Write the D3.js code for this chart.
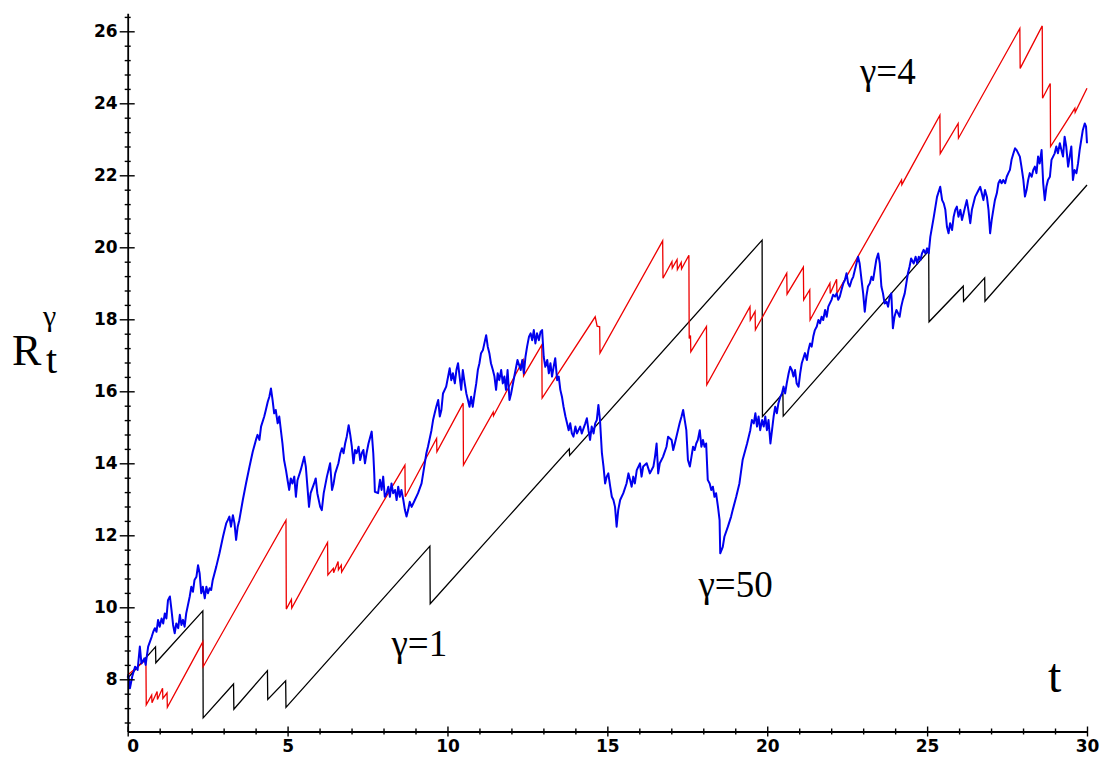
<!DOCTYPE html>
<html><head><meta charset="utf-8">
<script src="https://cdn.jsdelivr.net/npm/d3@7"></script>
<style>
html,body{margin:0;padding:0;background:#fff;}
svg{display:block;}
</style></head>
<body>
<svg id="chart" width="1105" height="758"></svg>
<script>
// ---------- data ----------
const xTickLabels = [0,5,10,15,20,25,30];
const yTickLabels = [8,10,12,14,16,18,20,22,24,26];

// gamma = 1 (black) sawtooth vertices [t, R]
const gamma1Series = [[0,8.03],[0.87,8.90],[0.88,8.46],[2.35,9.90],[2.36,6.93],[3.31,7.87],[3.32,7.17],[4.37,8.24],[4.38,7.44],[4.94,7.96],[4.95,7.22],[9.45,11.70],[9.46,10.10],[13.81,14.40],[13.82,14.22],[19.84,20.20],[19.85,15.30],[20.49,15.94],[20.50,15.31],[25.05,19.90],[25.06,17.93],[26.13,18.92],[26.14,18.50],[26.80,19.15],[26.81,18.50],[30.0,21.73]];

// gamma = 4 (red) sawtooth vertices [t, R]
const gamma4Series = [[0,8.12],[0.57,8.54],[0.58,7.29],[0.75,7.56],[0.76,7.35],[0.92,7.66],[0.93,7.44],[1.09,7.75],[1.10,7.47],[1.23,7.62],[1.24,7.22],[2.35,9.04],[2.36,8.35],[4.95,12.42],[4.96,9.95],[5.12,10.22],[5.13,9.98],[6.25,11.80],[6.26,10.90],[6.43,11.08],[6.44,10.96],[6.58,11.27],[6.59,11.04],[6.68,11.17],[6.69,10.98],[8.67,13.95],[8.68,13.07],[9.66,14.69],[9.67,14.32],[10.49,15.67],[10.50,13.95],[11.43,15.42],[11.44,15.32],[12.37,16.87],[12.38,16.43],[12.95,17.29],[12.96,15.81],[14.62,18.07],[14.68,17.81],[14.76,17.79],[14.77,17.06],[16.73,20.18],[16.74,19.14],[17.02,19.60],[17.03,19.42],[17.18,19.66],[17.19,19.38],[17.31,19.58],[17.32,19.40],[17.55,19.78],[17.56,17.47],[17.60,17.55],[17.61,17.10],[18.10,17.80],[18.11,16.18],[19.46,18.35],[19.47,17.98],[19.62,18.22],[19.63,17.71],[20.61,19.28],[20.62,18.70],[21.13,19.45],[21.14,18.54],[21.33,18.82],[21.34,17.98],[21.96,19.00],[21.97,18.72],[22.17,19.11],[22.18,18.72],[24.20,21.87],[24.21,21.74],[25.40,23.67],[25.41,22.60],[25.97,23.44],[25.98,23.03],[27.90,26.08],[27.91,24.97],[28.60,26.15],[28.61,24.14],[28.85,24.55],[28.86,22.80],[29.62,23.86],[29.63,23.75],[30.0,24.42]];

// gamma = 50 (blue) path samples [t, R]
const gamma50Series = [[0.00,8.05],[0.02,8.12],[0.07,7.75],[0.14,8.07],[0.23,8.35],[0.31,8.26],[0.38,8.91],[0.43,8.44],[0.52,8.58],[0.56,8.40],[0.64,8.91],[0.75,9.18],[0.80,9.32],[0.85,9.42],[0.90,9.32],[0.95,9.65],[1.00,9.46],[1.06,9.69],[1.11,9.55],[1.16,9.83],[1.21,9.69],[1.26,10.20],[1.32,10.30],[1.37,9.92],[1.42,9.51],[1.47,9.28],[1.52,9.55],[1.58,9.42],[1.63,9.79],[1.68,9.51],[1.73,9.65],[1.78,9.46],[1.83,9.83],[1.94,10.30],[1.99,10.57],[2.04,10.43],[2.09,10.76],[2.15,10.85],[2.20,11.17],[2.25,10.94],[2.30,10.39],[2.35,10.57],[2.41,10.25],[2.46,10.57],[2.51,10.39],[2.56,10.53],[2.61,10.48],[2.66,10.76],[2.77,11.13],[2.87,11.50],[2.98,11.96],[3.03,12.15],[3.08,12.33],[3.13,12.42],[3.18,12.52],[3.23,12.24],[3.29,12.56],[3.34,12.33],[3.39,11.87],[3.44,12.24],[3.49,12.42],[3.60,12.98],[3.70,13.44],[3.81,13.91],[3.91,14.32],[4.01,14.65],[4.06,14.79],[4.12,14.65],[4.17,15.02],[4.27,15.30],[4.32,15.48],[4.38,15.71],[4.43,15.85],[4.48,16.08],[4.53,15.76],[4.58,15.39],[4.63,15.48],[4.69,15.11],[4.74,15.30],[4.79,14.92],[4.84,14.55],[4.89,14.09],[4.95,13.81],[5.00,13.53],[5.05,13.26],[5.10,13.58],[5.15,13.44],[5.21,13.63],[5.26,13.07],[5.31,13.53],[5.41,13.81],[5.52,14.18],[5.57,13.91],[5.62,13.35],[5.67,12.79],[5.72,13.17],[5.83,13.44],[5.88,13.58],[5.93,13.17],
[6.02,12.79],[6.07,12.70],[6.13,13.17],[6.23,13.63],[6.33,14.00],[6.39,13.26],[6.44,13.44],[6.49,13.72],[6.59,14.00],[6.65,14.28],[6.70,14.42],[6.75,14.28],[6.80,14.55],[6.85,14.74],[6.91,15.06],[6.96,14.79],[7.01,14.46],[7.06,14.00],[7.11,14.37],[7.16,14.28],[7.22,14.46],[7.27,14.09],[7.32,14.28],[7.37,14.37],[7.42,14.00],[7.47,14.28],[7.53,14.55],[7.63,14.88],[7.68,14.28],[7.71,13.72],[7.73,13.21],[7.83,13.17],[7.89,13.54],[7.94,13.26],[7.99,13.63],[8.04,13.07],[8.10,13.17],[8.15,13.35],[8.20,13.07],[8.25,13.44],[8.30,13.17],[8.36,13.26],[8.41,12.98],[8.46,13.35],[8.51,13.07],[8.56,13.26],[8.62,12.98],[8.67,12.70],[8.72,12.52],[8.77,12.70],[8.82,12.93],[8.88,12.79],[8.98,12.98],[9.08,13.17],[9.19,13.44],[9.29,14.00],[9.34,14.28],[9.39,14.46],[9.50,14.92],[9.55,15.20],[9.60,15.39],[9.65,15.57],[9.71,15.76],[9.76,15.30],[9.81,15.48],[9.86,15.94],[9.96,16.13],[10.07,16.64],[10.12,16.31],[10.17,16.50],[10.23,16.22],[10.28,16.59],[10.33,16.78],[10.38,16.41],[10.43,16.04],[10.48,16.59],[10.54,16.22],[10.59,15.94],[10.64,15.76],[10.69,15.57],[10.74,15.85],[10.79,15.57],[10.85,15.94],[10.90,16.22],[10.95,16.59],[11.00,16.78],[11.05,17.06],[11.11,17.15],[11.21,17.56],[11.26,17.24],[11.31,17.06],[11.36,16.78],[11.42,16.59],[11.47,16.41],[11.52,16.04],[11.57,16.50],[11.62,16.31],[11.68,16.59],[11.73,16.22],[11.78,16.41],[11.83,16.04],[11.88,16.59],[11.94,15.76],[11.99,15.94],[12.09,16.41],[12.19,16.87],
[12.29,16.59],[12.34,16.87],[12.39,16.50],[12.44,16.96],[12.49,17.24],[12.55,17.52],[12.60,17.61],[12.65,17.42],[12.70,17.70],[12.75,17.33],[12.80,17.61],[12.86,17.42],[12.91,17.65],[12.96,17.70],[13.01,16.96],[13.06,16.68],[13.12,16.87],[13.17,16.50],[13.22,16.78],[13.27,16.41],[13.32,16.68],[13.37,16.92],[13.43,16.31],[13.48,16.41],[13.53,16.04],[13.58,15.85],[13.63,15.57],[13.69,15.30],[13.74,15.11],[13.79,14.92],[13.84,15.11],[13.89,14.83],[13.94,14.74],[14.00,15.02],[14.05,14.83],[14.15,15.02],[14.20,14.83],[14.31,15.11],[14.36,15.25],[14.41,14.92],[14.46,14.65],[14.51,15.02],[14.57,14.83],[14.62,15.11],[14.67,15.20],[14.72,15.62],[14.77,15.20],[14.83,14.28],[14.88,13.91],[14.93,13.44],[14.98,13.63],[15.03,13.72],[15.09,13.35],[15.14,13.07],[15.19,12.98],[15.24,12.79],[15.29,12.24],[15.34,12.70],[15.40,12.98],[15.50,13.17],[15.60,13.44],[15.66,13.72],[15.71,13.54],[15.76,13.35],[15.81,13.63],[15.86,13.44],[15.92,13.81],[16.02,14.00],[16.07,13.63],[16.12,13.91],[16.23,14.00],[16.33,13.72],[16.44,13.91],[16.49,14.18],[16.54,14.55],[16.59,13.72],[16.64,14.00],[16.74,14.18],[16.85,14.46],[16.90,14.74],[17.01,14.65],[17.06,14.37],[17.11,14.55],[17.16,14.74],[17.26,15.11],[17.32,15.30],[17.37,15.48],[17.42,15.20],[17.47,14.92],[17.52,14.09],[17.58,13.91],[17.63,14.18],[17.68,14.46],[17.73,14.37],[17.78,14.55],[17.83,14.65],[17.89,14.92],[17.94,14.46],[17.99,14.65],[18.04,14.46],[18.09,14.55],[18.14,13.54],[18.20,13.44],[18.25,13.26],[18.30,13.35],[18.35,13.07],[18.40,13.17],[18.46,12.79],[18.51,12.42],[18.53,11.50],[18.61,11.68],[18.66,11.96],[18.77,12.24],[18.87,12.52],[18.92,12.70],[19.03,13.07],[19.13,13.44],[19.23,14.09],
[19.37,14.55],[19.47,14.92],[19.52,15.20],[19.58,15.11],[19.63,15.39],[19.68,15.02],[19.73,15.30],[19.78,14.92],[19.84,15.20],[19.89,15.02],[19.94,15.30],[19.99,14.92],[20.04,15.20],[20.10,14.55],[20.15,14.92],[20.20,15.30],[20.25,15.57],[20.30,15.39],[20.35,15.67],[20.41,15.85],[20.46,15.94],[20.51,16.13],[20.56,15.94],[20.61,16.22],[20.67,16.50],[20.72,16.68],[20.77,16.59],[20.82,16.41],[20.87,16.59],[20.92,16.22],[20.98,16.13],[21.03,16.50],[21.08,16.78],[21.18,17.06],[21.24,16.87],[21.29,17.15],[21.34,17.33],[21.39,17.24],[21.44,17.52],[21.49,17.70],[21.55,17.80],[21.60,17.98],[21.65,17.89],[21.70,18.07],[21.75,17.98],[21.81,18.26],[21.86,18.07],[21.91,18.35],[22.01,18.54],[22.06,18.68],[22.12,18.63],[22.17,18.72],[22.22,18.54],[22.27,18.63],[22.32,18.81],[22.38,19.00],[22.43,19.09],[22.48,19.28],[22.53,19.00],[22.58,18.91],[22.64,19.09],[22.69,19.18],[22.74,19.37],[22.79,19.55],[22.84,19.74],[22.89,19.55],[22.95,19.09],[23.00,18.72],[23.05,18.21],[23.10,18.63],[23.15,18.91],[23.21,19.00],[23.26,19.18],[23.31,19.09],[23.36,19.37],[23.41,19.65],[23.47,19.83],[23.52,19.55],[23.57,18.91],[23.62,18.72],[23.67,18.44],[23.73,18.49],[23.78,18.35],[23.83,18.63],[23.88,18.72],[23.93,17.75],[23.98,18.07],[24.04,18.26],[24.09,18.17],[24.14,18.07],[24.19,18.35],[24.24,18.54],[24.30,18.72],[24.35,19.00],[24.40,19.28],[24.45,19.46],[24.50,19.69],
[24.58,19.55],[24.64,19.74],[24.69,19.55],[24.74,19.74],[24.79,19.65],[24.84,19.83],[24.89,19.93],[24.95,19.83],[25.00,19.97],[25.05,19.83],[25.10,20.29],[25.21,20.85],[25.31,21.40],[25.41,21.68],[25.47,21.31],[25.52,21.22],[25.57,21.04],[25.62,20.57],[25.67,20.39],[25.72,20.67],[25.78,20.48],[25.83,20.85],[25.88,21.04],[25.93,21.13],[25.98,20.85],[26.04,21.04],[26.09,20.76],[26.14,20.94],[26.19,21.13],[26.24,21.31],[26.29,21.04],[26.35,20.67],[26.40,21.04],[26.50,21.40],[26.61,21.59],[26.66,21.68],[26.71,21.50],[26.76,21.31],[26.81,21.59],[26.87,21.40],[26.92,21.04],[26.97,20.39],[27.02,20.76],[27.07,21.04],[27.12,21.31],[27.18,21.50],[27.23,21.78],[27.28,21.87],[27.33,21.78],[27.38,21.87],[27.44,21.78],[27.49,21.96],[27.54,22.06],[27.59,22.15],[27.64,22.43],[27.70,22.61],[27.75,22.75],[27.80,22.70],[27.85,22.61],[27.90,22.52],[27.95,22.24],[28.01,21.87],[28.06,21.41],[28.11,21.59],[28.16,21.87],[28.21,22.06],[28.27,21.96],[28.32,22.15],[28.37,22.24],[28.42,22.06],[28.47,22.52],[28.52,22.33],[28.58,22.70],[28.63,21.78],[28.68,21.31],[28.73,21.68],[28.78,21.87],[28.84,21.96],[28.89,22.43],[28.94,22.52],[28.99,22.61],[29.04,22.80],[29.09,22.61],[29.15,22.89],[29.20,22.70],[29.25,22.52],[29.30,23.07],[29.35,22.80],[29.41,22.24],[29.46,22.52],[29.51,22.80],[29.56,21.87],[29.61,22.15],[29.67,22.06],[29.72,22.33],[29.77,22.70],[29.82,22.98],[29.87,23.26],[29.93,23.44],[29.97,23.35],[30.00,22.89]];

const seriesLabels = [
  {name: "γ=4",  t: 22.9, r: 24.55},
  {name: "γ=50", t: 17.85, r: 10.3},
  {name: "γ=1",  t: 8.25, r: 8.65}
];

// ---------- drawing ----------
const svg = d3.select("#chart");
const x = d3.scaleLinear().domain([0, 30]).range([127.7, 1087]);
const y = d3.scaleLinear().domain([6.55, 26.5]).range([731.5, 13.3]);

const line = d3.line().x(d => x(d[0])).y(d => y(d[1]));

svg.append("path").datum(gamma1Series).attr("d", line)
  .attr("fill", "none").attr("stroke", "#000").attr("stroke-width", 1.3);
svg.append("path").datum(gamma4Series).attr("d", line)
  .attr("fill", "none").attr("stroke", "#ee0000").attr("stroke-width", 1.3);
svg.append("path").datum(gamma50Series).attr("d", line)
  .attr("fill", "none").attr("stroke", "#0000ee").attr("stroke-width", 2)
  .attr("stroke-linejoin", "round");

const tickFont = "'DejaVu Sans', 'Liberation Sans', sans-serif";

// Y axis (minor ticks)
const yMinor = d3.range(6.8, 26.5, 0.4).filter(v => Math.abs(v/2 - Math.round(v/2)) > 0.01);
const yMinorG = svg.append("g").attr("transform", `translate(${x(0)},0)`)
  .call(d3.axisLeft(y).tickValues(yMinor).tickSize(3).tickSizeOuter(0).tickFormat(""));
yMinorG.select(".domain").remove();
yMinorG.selectAll(".tick line").attr("x1", 3).attr("stroke", "#000").attr("stroke-width", 1.4);

// Y axis (major)
const yG = svg.append("g").attr("transform", `translate(${x(0)},0)`)
  .call(d3.axisLeft(y).tickValues(yTickLabels).tickSize(8).tickSizeOuter(0).tickPadding(2).tickFormat(d3.format("d")));
yG.select(".domain").attr("stroke", "#000").attr("stroke-width", 1.8);
yG.selectAll(".tick line").attr("x1", 7).attr("stroke", "#000").attr("stroke-width", 1.4);
yG.selectAll(".tick text").attr("font-family", tickFont).attr("font-weight", "bold")
  .attr("font-size", 17).attr("fill", "#000");

// X axis (minor)
const xMinor = d3.range(1, 30, 1).filter(v => v % 5 !== 0);
const xMinorG = svg.append("g").attr("transform", `translate(0,${y(6.55)})`)
  .call(d3.axisBottom(x).tickValues(xMinor).tickSize(3).tickSizeOuter(0).tickFormat(""));
xMinorG.select(".domain").remove();
xMinorG.selectAll(".tick line").attr("y1", -3).attr("stroke", "#000").attr("stroke-width", 1.4);

// X axis (major)
const xG = svg.append("g").attr("transform", `translate(0,${y(6.55)})`)
  .call(d3.axisBottom(x).tickValues(xTickLabels).tickSize(5).tickSizeOuter(0).tickPadding(3).tickFormat(d3.format("d")));
xG.select(".domain").attr("stroke", "#000").attr("stroke-width", 1.8);
xG.selectAll(".tick line").attr("y1", -5).attr("stroke", "#000").attr("stroke-width", 1.4);
xG.selectAll(".tick text").attr("font-family", tickFont).attr("font-weight", "bold")
  .attr("font-size", 17).attr("fill", "#000")
  .attr("dx", d => d === 0 ? 5 : 0);

// Labels
const serif = "'Liberation Serif', 'Times New Roman', serif";
svg.append("text").attr("x", 12).attr("y", 365).attr("font-family", serif)
  .attr("font-size", 44).attr("fill", "#000").text("R");
svg.append("text").attr("x", 43).attr("y", 326).attr("font-family", serif)
  .attr("font-size", 30).attr("fill", "#000").text("γ");
svg.append("text").attr("x", 46).attr("y", 373).attr("font-family", serif)
  .attr("font-size", 40).attr("fill", "#000").text("t");
svg.append("text").attr("x", 1048).attr("y", 692).attr("font-family", serif)
  .attr("font-size", 48).attr("fill", "#000").text("t");

svg.selectAll("text.series").data(seriesLabels).join("text").attr("class", "series")
  .attr("x", d => x(d.t)).attr("y", d => y(d.r))
  .attr("font-family", serif).attr("font-size", 37).attr("fill", "#000")
  .text(d => d.name);
</script>
</body></html>
